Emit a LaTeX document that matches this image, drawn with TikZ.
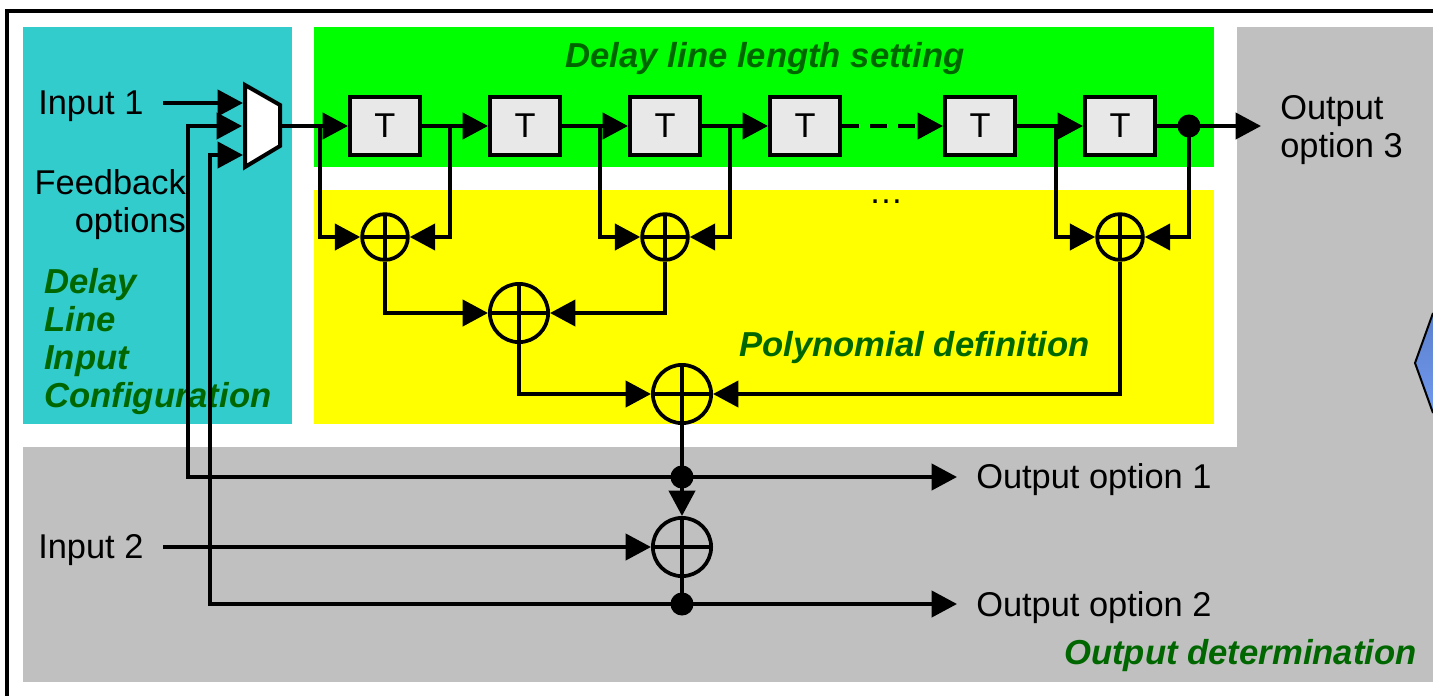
\documentclass[tikz,border=0pt]{standalone}
\usepackage{fontspec}
\setmainfont{Liberation Sans}
\usetikzlibrary{arrows.meta,positioning}
\definecolor{darkgreen}{RGB}{0,102,0}
\definecolor{inputbox}{RGB}{51,204,204}
\definecolor{delaybox}{RGB}{0,255,0}
\definecolor{polybox}{RGB}{255,255,0}
\definecolor{outputbox}{RGB}{192,192,192}

\begin{document}
\begin{tikzpicture}[
  x=0.75pt, y=-0.75pt,
  node distance=49.5pt,
  delay/.style={draw, fill=black!9, line width=3pt, minimum width=52.5pt, minimum height=43.5pt,
    inner sep=0pt, font=\fontsize{25.8}{28}\selectfont},
  xorgate/.style={draw, circle, line width=2.8pt, inner sep=0pt, minimum size=#1,
    path picture={\draw[line width=2.4pt] (path picture bounding box.north) -- (path picture bounding box.south)
      (path picture bounding box.west) -- (path picture bounding box.east);}},
  xorgate/.default=34.3pt,
  bigxor/.style={xorgate=43.7pt},
  dotjoin/.style={circle, fill=black, inner sep=0pt, outer sep=-1pt, minimum size=17.3pt},
  wire/.style={line width=3pt},
  flow/.style={wire, -{Triangle[length=19pt, width=19.5pt]}},
  plain/.style={font=\fontsize{25.8}{28.5}\selectfont, inner sep=0pt, align=left},
  title/.style={font=\fontsize{26}{28.5}\bfseries\itshape\selectfont, text=darkgreen, inner sep=0pt, align=left}
]
\useasboundingbox (0,0) rectangle (1433,696);
% background regions
\draw[line width=2.5pt] (1433,11) -- (7,11) -- (7,696);
\fill[outputbox] (1237,27) rectangle (1433,682);
\fill[outputbox] (23,447) rectangle (1433,682);
\fill[inputbox] (23,27) rectangle (292,424);
\fill[delaybox] (314,27) rectangle (1214,167);
\fill[polybox] (314,190) rectangle (1214,424);
\draw[line width=1.5pt, top color={rgb,255:red,92;green,128;blue,205}, bottom color={rgb,255:red,112;green,153;blue,238}]
  (1433,313) -- (1415,363) -- (1433,413);

% multiplexer
\node[minimum width=26pt, minimum height=61pt, inner sep=0pt] (mux) at (262.5,126) {};
\draw[wire, fill=white, line join=miter] (245,85) -- (280,105) -- (280,146) -- (245,167) -- cycle;
\coordinate (in1) at (243,103);
\coordinate (in2) at (242,126);
\coordinate (in3) at (243,155);
\coordinate (src1) at (163,103);
\coordinate (src2) at (163,547);

% delay line
\node[delay] (t1) at (385,126) {T};
\node[delay, right=of t1] (t2) {T};
\node[delay, right=of t2] (t3) {T};
\node[delay, right=of t3] (t4) {T};
\node[delay, right=75.75pt of t4] (t5) {T};
\node[delay, right=of t5] (t6) {T};
\node[dotjoin] (end) at (1189,126) {};
\coordinate (out3) at (1261,126);
\coordinate (b1) at (320,126);
\coordinate (b2) at (450,126);
\coordinate (b3) at (600,126);
\coordinate (b4) at (730,126);
\coordinate (b5) at (1056,126);

% adders
\node[xorgate] (xa) at (385,237) {};
\node[xorgate] (xb) at (665,237) {};
\node[xorgate] (xc) at (1120,237) {};
\node[bigxor] (xd) at (519,313) {};
\node[bigxor] (xe) at (682,394) {};
\node[bigxor] (xf) at (682,547) {};
\node[dotjoin] (fb1) at (682,477) {};
\node[dotjoin] (fb2) at (682,604) {};
\coordinate (out1) at (957,477);
\coordinate (out2) at (957,604);

% labels
\node[plain, anchor=base west] (input1) at (38,114) {Input 1};
\node[plain, anchor=base west] (input2) at (38,558) {Input 2};
\node[plain, anchor=base east, align=right] (fbopt) at (186,232) {Feedback\\options};
\node[plain, anchor=base west] (lout3) at (1280,157) {Output\\option 3};
\node[plain, anchor=base west] (lout1) at (976,488) {Output option 1};
\node[plain, anchor=base west] (lout2) at (976,616) {Output option 2};
\node[plain, anchor=base] (dots) at (886,203) {\dots};
\node[title, anchor=base] (tdelay) at (765,67) {Delay line length setting};
\node[title, anchor=base west] (tpoly) at (739,356) {Polynomial definition};
\node[title, anchor=base west] (tout) at (1064,664) {Output determination};
\node[title, anchor=base west] (tinput) at (44,407) {Delay\\Line\\Input\\Configuration};

% connectors
\draw[flow] (src1) -- (in1);
\draw[flow] (mux.east) -- (t1.west);
\draw[flow] (t1) -- (t2);
\draw[flow] (t2) -- (t3);
\draw[flow] (t3) -- (t4);
\draw[flow, dash pattern=on 12.4pt off 8.6pt] (t4) -- (t5);
\draw[flow] (t5) -- (t6);
\draw[wire] (t6) -- (end);
\draw[flow] (end) -- (out3);
\draw[flow] (b1) |- (xa);
\draw[flow] (b2) |- (xa);
\draw[flow] (b3) |- (xb);
\draw[flow] (b4) |- (xb);
\draw[flow] (b5) |- (xc);
\draw[flow] (end) |- (xc);
\draw[flow] (xa) |- (xd);
\draw[flow] (xb) |- (xd);
\draw[flow] (xd) |- (xe);
\draw[flow] (xc) |- (xe);
\draw[wire] (xe) -- (fb1);
\draw[flow] (fb1) -- (xf);
\draw[wire] (xf) -- (fb2);
\draw[flow] (src2) -- (xf);
\draw[flow] (fb1) -- (out1);
\draw[flow] (fb2) -- (out2);
\draw[flow] (fb1) -| (188,126) -- (in2);
\draw[flow] (fb2) -| (210,155) -- (in3);
\end{tikzpicture}
\end{document}
